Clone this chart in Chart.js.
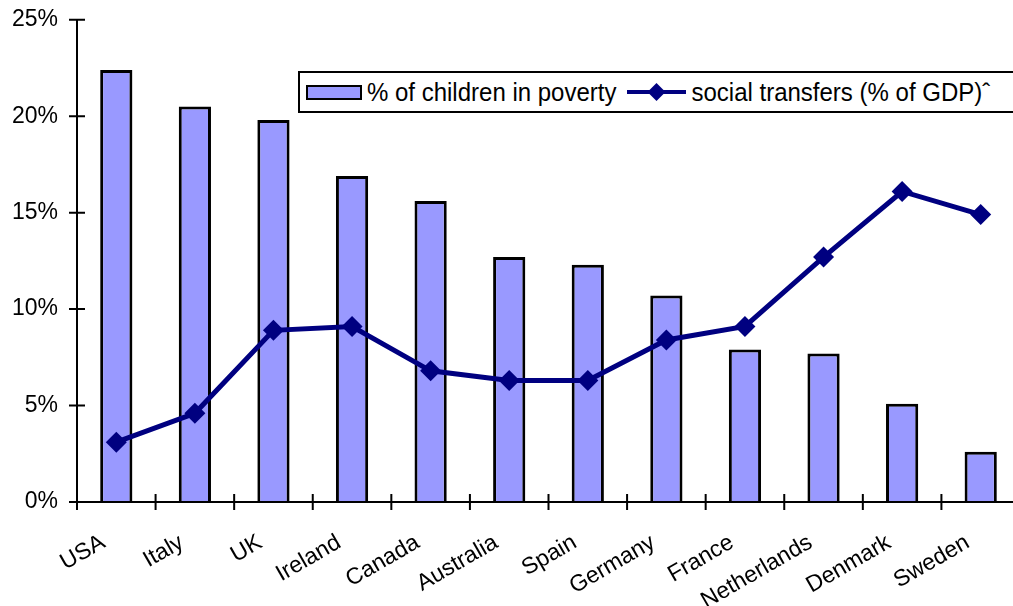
<!DOCTYPE html>
<html><head><meta charset="utf-8">
<script src="https://cdn.jsdelivr.net/npm/chart.js@4.4.1/dist/chart.umd.min.js"></script>
<style>
html,body{margin:0;padding:0;background:#fff;overflow:hidden;width:1013px;height:606px;}
#wrap{position:absolute;left:0;top:-5px;width:1040px;height:611px;}
#legend{position:absolute;left:298px;top:71px;width:716px;height:38px;border:2px solid #000;background:#fff;
 font-family:"Liberation Sans",Arial,sans-serif;font-size:24px;color:#000;display:flex;align-items:center;white-space:nowrap;}
.sw{display:inline-block;width:52px;height:11px;background:#9999FF;border:2px solid #000;margin-left:6px;margin-right:5px;}
.t{display:inline-block;transform:scaleY(1.1);}
</style></head>
<body>
<div id="wrap"><canvas id="c" width="1040" height="611"></canvas></div>
<div id="legend"><span class="sw"></span><span class="t">% of children in poverty</span>
<svg width="59" height="24" style="margin-left:11px;margin-right:5px"><line x1="0" y1="12" x2="59" y2="12" stroke="#000080" stroke-width="4"/><polygon points="29.5,3 38.5,12 29.5,21 20.5,12" fill="#000080"/></svg><span class="t">social transfers (% of GDP)ˆ</span></div>
<script>
const categories = ["USA","Italy","UK","Ireland","Canada","Australia","Spain","Germany","France","Netherlands","Denmark","Sweden"];
const childPoverty = [22.4, 20.5, 19.8, 16.9, 15.6, 12.7, 12.3, 10.7, 7.9, 7.7, 5.1, 2.6];
const socialTransfers = [3.1, 4.6, 8.9, 9.1, 6.8, 6.3, 6.3, 8.4, 9.1, 12.7, 16.1, 14.9];
const yTicks = [0, 5, 10, 15, 20, 25];

const FONT = '"Liberation Sans", Arial, sans-serif';

const axesPlugin = {
  id: 'axesPlugin',
  afterDatasetsDraw(chart) {
    const ctx = chart.ctx, x = chart.scales.x, y = chart.scales.y;
    const ca = chart.chartArea;
    ctx.save();
    ctx.strokeStyle = '#000';
    ctx.lineWidth = 2;
    ctx.beginPath();
    ctx.moveTo(ca.left, y.getPixelForValue(25));
    ctx.lineTo(ca.left, y.getPixelForValue(0));
    ctx.moveTo(ca.left, y.getPixelForValue(0));
    ctx.lineTo(ca.right, y.getPixelForValue(0));
    yTicks.forEach(v => {
      const py = y.getPixelForValue(v);
      ctx.moveTo(ca.left - 8, py);
      ctx.lineTo(ca.left + 8, py);
    });
    const half = (x.getPixelForValue(1) - x.getPixelForValue(0)) / 2;
    const py0 = y.getPixelForValue(0);
    for (let i = 0; i <= categories.length; i++) {
      const px = x.getPixelForValue(i) - half;
      ctx.moveTo(px, py0 - 8);
      ctx.lineTo(px, py0 + 8);
    }
    ctx.stroke();
    ctx.restore();
  }
};

new Chart(document.getElementById('c'), {
  data: {
    labels: categories,
    datasets: [
      {
        type: 'line', label: 'social transfers (% of GDP)ˆ', data: socialTransfers,
        borderColor: '#000080', backgroundColor: '#000080', borderWidth: 5,
        pointStyle: 'rectRot', pointRadius: 10.5, pointHoverRadius: 10.5, pointBorderWidth: 0,
        tension: 0, order: 0
      },
      {
        type: 'bar', label: '% of children in poverty', data: childPoverty,
        backgroundColor: '#9999FF', borderColor: '#000', borderWidth: 3,
        barPercentage: 0.41, categoryPercentage: 1, order: 1
      }
    ]
  },
  options: {
    responsive: false, animation: false,
    layout: { padding: { top: 2, right: 20, left: 0, bottom: 0 } },
    plugins: { legend: { display: false }, tooltip: { enabled: false } },
    scales: {
      x: {
        type: 'category', offset: true,
        grid: { display: false }, border: { display: false },
        ticks: { color: '#000', font: { family: FONT, size: 23 }, minRotation: 30, maxRotation: 30, autoSkip: false, padding: 19, labelOffset: -13 },
        afterFit(s) { s.height = 104; }
      },
      y: {
        min: 0, max: 25,
        grid: { display: false }, border: { display: false },
        ticks: { stepSize: 5, color: '#000', font: { family: FONT, size: 23 }, padding: 11,
          callback: v => v + '%' },
        afterFit(s) { s.width = 77; }
      }
    }
  },
  plugins: [axesPlugin]
});
</script>
</body></html>
